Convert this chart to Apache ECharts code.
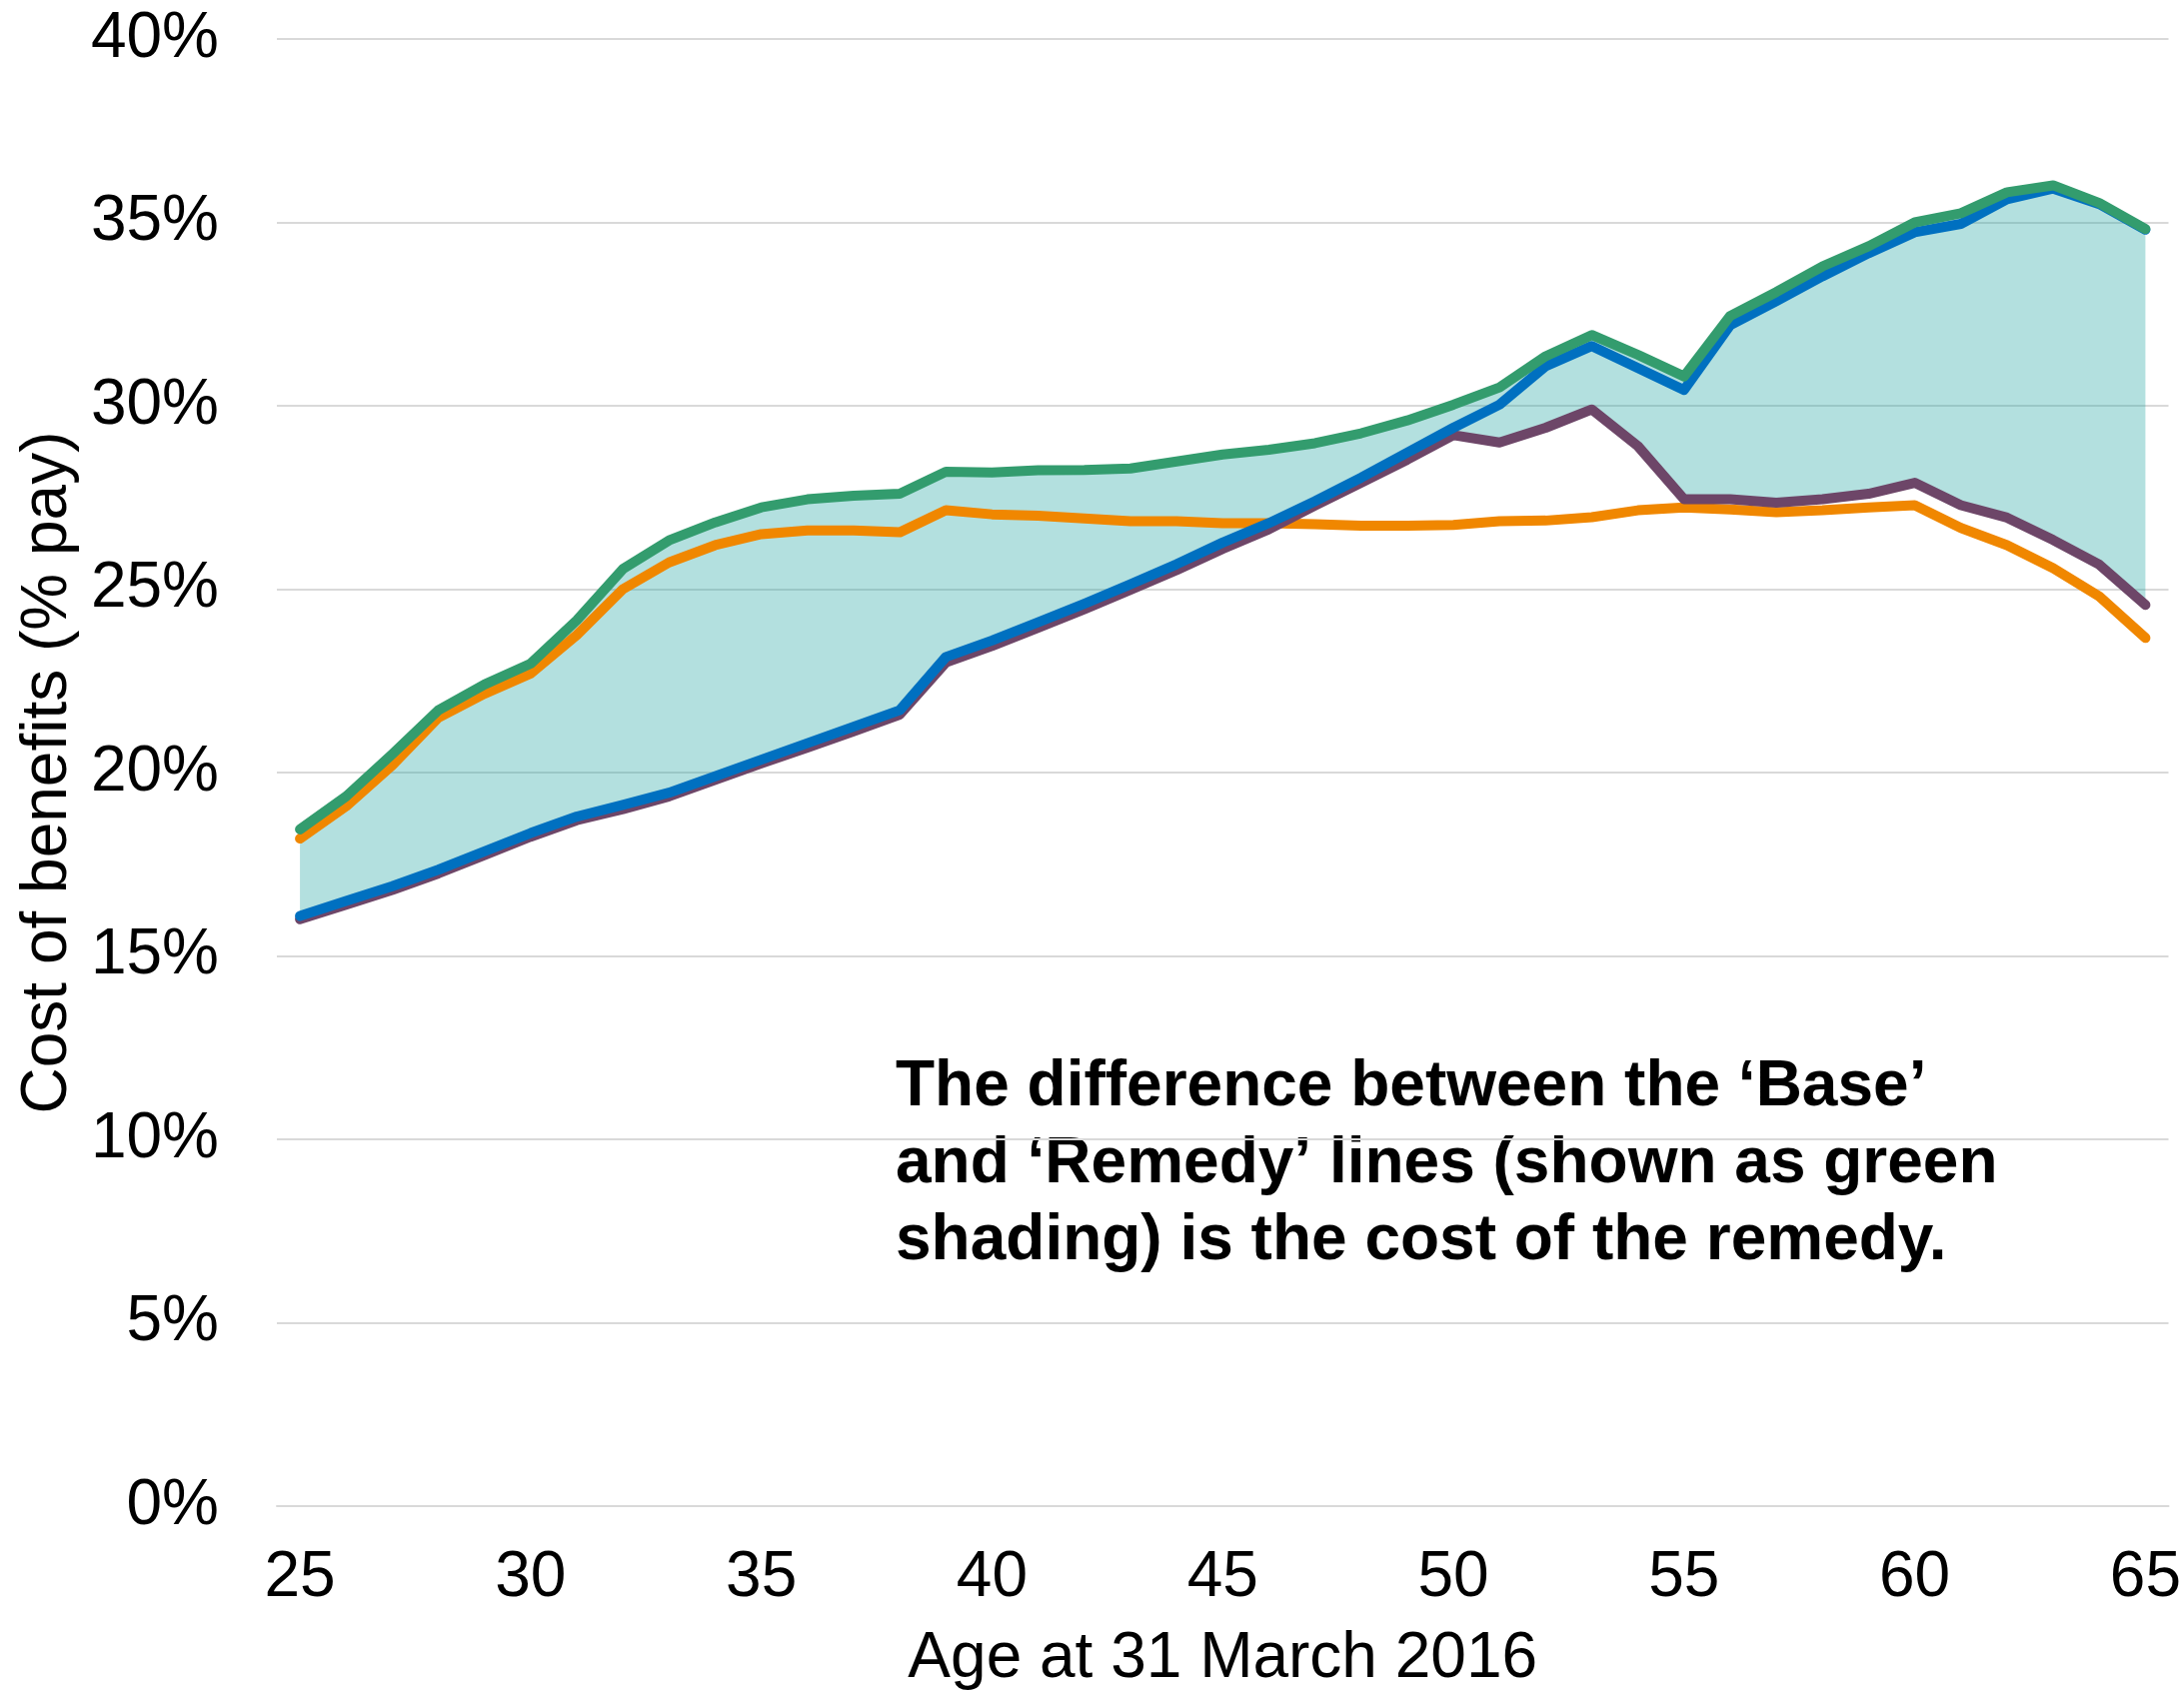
<!DOCTYPE html>
<html>
<head>
<meta charset="utf-8">
<script src="https://cdn.jsdelivr.net/npm/echarts@6/dist/echarts.min.js"></script>
<style>
  html, body { margin: 0; padding: 0; background: #fff; }
  #chart { width: 2185px; height: 1697px; }
</style>
</head>
<body>
<div id="chart"></div>
<script>
// age at 31 March 2016
var ages = [];
for (var a = 25; a <= 65; a++) ages.push(String(a));

// cost of benefits, % of pay
var greenLine = [18.45, 19.35, 20.5, 21.7, 22.4, 22.97, 24.15, 25.55, 26.33, 26.82,
    27.23, 27.45, 27.55, 27.6, 28.2, 28.18, 28.24, 28.25, 28.29, 28.48,
    28.67, 28.8, 28.98, 29.25, 29.6, 30.03, 30.5, 31.35, 31.93, 31.39,
    30.8, 32.45, 33.1, 33.8, 34.35, 35.0, 35.25, 35.82, 36.01, 35.53, 34.82];

var blueLine = [16.09, 16.5, 16.9, 17.35, 17.85, 18.35, 18.8, 19.12, 19.45, 19.9,
    20.35, 20.8, 21.25, 21.7, 23.15, 23.6, 24.1, 24.6, 25.13, 25.68,
    26.27, 26.8, 27.4, 28.04, 28.72, 29.4, 30.03, 31.08, 31.63, 31.03,
    30.43, 32.2, 32.85, 33.53, 34.16, 34.73, 34.96, 35.63, 35.92, 35.5, 34.8];

var purpleLine = [16.0, 16.4, 16.8, 17.25, 17.75, 18.25, 18.7, 19.0, 19.35, 19.8,
    20.25, 20.68, 21.12, 21.58, 23.0, 23.45, 23.95, 24.45, 24.98, 25.52,
    26.1, 26.63, 27.28, 27.9, 28.53, 29.2, 29.0, 29.4, 29.9, 28.9,
    27.45, 27.45, 27.36, 27.45, 27.6, 27.9, 27.29, 26.95, 26.34, 25.67, 24.57];

var orangeLine = [18.2, 19.08, 20.2, 21.5, 22.15, 22.7, 23.75, 25.0, 25.73, 26.2,
    26.5, 26.6, 26.6, 26.55, 27.15, 27.04, 27.0, 26.93, 26.85, 26.85,
    26.8, 26.8, 26.77, 26.73, 26.73, 26.75, 26.85, 26.87, 26.96, 27.15,
    27.23, 27.17, 27.1, 27.15, 27.23, 27.29, 26.67, 26.2, 25.57, 24.8, 23.67];

var yTicks = { min: 0, max: 40, interval: 5 };

// gap between the green and purple lines, for the shaded band
var gap = greenLine.map(function(v, i){
    return +(v - purpleLine[i]).toFixed(3);
});

var font = 'Liberation Sans, Arial, sans-serif';

function lineSeries(name, data, color) {
    return {
        name: name,
        type: 'line',
        data: data,
        symbol: 'none',
        lineStyle: { color: color, width: 10, cap: 'round', join: 'round' },
        itemStyle: { color: color }
    };
}

var option = {
    animation: false,
    backgroundColor: '#fff',
    grid: {
        left: 277,
        right: 15,
        top: 39,
        bottom: 186
    },
    xAxis: {
        type: 'category',
        data: ages,
        boundaryGap: true,
        name: 'Age at 31 March 2016',
        nameLocation: 'middle',
        nameGap: 121,
        nameTextStyle: { fontSize: 64, color: '#000', fontFamily: font },
        axisLine: { show: true, lineStyle: { color: '#d9d9d9', width: 2 } },
        axisTick: { show: false },
        axisLabel: {
            interval: 4,
            fontSize: 64,
            color: '#000',
            fontFamily: font,
            margin: 40
        }
    },
    yAxis: {
        type: 'value',
        min: yTicks.min,
        max: yTicks.max,
        interval: yTicks.interval,
        name: 'Cost of benefits (% pay)',
        nameLocation: 'middle',
        nameGap: 190,
        nameTextStyle: { fontSize: 64, color: '#000', fontFamily: font },
        axisLine: { show: false },
        axisTick: { show: false },
        axisLabel: {
            formatter: '{value}%',
            fontSize: 64,
            color: '#000',
            fontFamily: font,
            margin: 58
        },
        splitLine: { lineStyle: { color: '#d9d9d9', width: 2 } }
    },
    graphic: [{
        type: 'text',
        left: 896,
        top: 1050,
        style: {
            text: 'The difference between the \u2018Base\u2019\nand \u2018Remedy\u2019 lines (shown as green\nshading) is the cost of the remedy.',
            font: 'bold 64px ' + font,
            lineHeight: 77,
            fill: '#000'
        }
    }],
    series: [
        {
            name: 'band base',
            type: 'line',
            stack: 'band',
            data: purpleLine,
            symbol: 'none',
            silent: true,
            lineStyle: { opacity: 0 }
        },
        {
            name: 'band',
            type: 'line',
            stack: 'band',
            data: gap,
            symbol: 'none',
            silent: true,
            lineStyle: { opacity: 0 },
            areaStyle: { color: 'rgba(38,166,164,0.35)', opacity: 1 }
        },
        lineSeries('orange', orangeLine, '#f08700'),
        lineSeries('purple', purpleLine, '#6d4668'),
        lineSeries('blue', blueLine, '#0070c0'),
        lineSeries('green', greenLine, '#339c6e')
    ]
};

var myChart = echarts.init(document.getElementById('chart'));
myChart.setOption(option);
</script>
</body>
</html>
